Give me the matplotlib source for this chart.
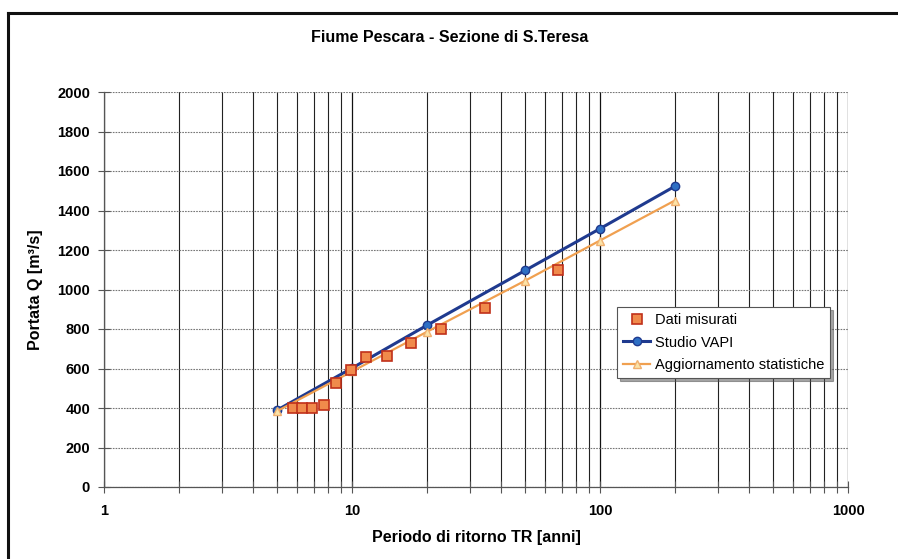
import matplotlib
matplotlib.use("Agg")
import matplotlib.pyplot as plt
from matplotlib.lines import Line2D
from matplotlib.ticker import FixedLocator, LogLocator, NullFormatter

plt.rcParams['font.family'] = ['Liberation Sans', 'DejaVu Sans']

# Measured peak discharges (return period, discharge)
tr_misurati = [5.8, 6.3, 6.9, 7.7, 8.6, 9.9, 11.4, 13.8, 17.3, 22.9, 34.4, 67.7]
q_misurati = [400, 400, 400, 415, 527, 592, 658, 663, 729, 800, 906, 1099]

# VAPI regional study
tr_vapi = [5, 10, 20, 50, 100, 200]
q_vapi = [390, 602, 818, 1097, 1308, 1522]

# Updated statistics
tr_agg = [5, 10, 20, 50, 100, 200]
q_agg = [385, 585, 785, 1045, 1248, 1450]

x_ticks = [1, 10, 100, 1000]
x_tick_labels = ["1", "10", "100", "1000"]
y_ticks = list(range(0, 2001, 200))

fig = plt.figure(figsize=(8.98, 5.59), dpi=100)
ax = fig.add_axes([104 / 898, 1 - 487 / 559, 744 / 898, 395 / 559])

ax.set_xscale('log')
ax.set_xlim(1, 1000)
ax.set_ylim(0, 2000)

ax.xaxis.set_major_locator(FixedLocator(x_ticks))
ax.set_xticklabels(x_tick_labels)
ax.xaxis.set_minor_locator(LogLocator(base=10, subs=range(2, 10)))
ax.xaxis.set_minor_formatter(NullFormatter())
ax.set_yticks(y_ticks)

ax.grid(True, axis='x', which='major', color='#111111', lw=0.9)
ax.grid(True, axis='x', which='minor', color='#222222', lw=0.8)
ax.grid(True, axis='y', which='major', color='#777777', lw=0.8, ls=(0, (1.5, 1)))

for side in ('top', 'right'):
    ax.spines[side].set_visible(False)
for side in ('left', 'bottom'):
    ax.spines[side].set_color('#555555')
    ax.spines[side].set_linewidth(0.9)

ax.tick_params(axis='both', which='both', direction='inout', color='#555555')
ax.tick_params(axis='y', length=8, width=0.8, labelsize=10.5, pad=6)
ax.tick_params(axis='x', which='major', length=8, width=0.8, labelsize=10.5, pad=8)
ax.tick_params(axis='x', which='minor', length=8, width=0.8)
for lbl in ax.get_xticklabels() + ax.get_yticklabels():
    lbl.set_fontweight('bold')

ax.plot(tr_vapi, q_vapi, color='#1f3a8f', lw=2.2, marker='o', ms=6,
        mfc='#2e6fc4', mec='#1f3a8f', label='Studio VAPI', zorder=3)
ax.plot(tr_agg, q_agg, color='#f0a050', lw=1.6, marker='^', ms=6,
        mfc='#fbe3a8', mec='#f0b070', label='Aggiornamento statistiche', zorder=4)
ax.plot(tr_misurati, q_misurati, ls='none', marker='s', ms=7,
        mfc='#f08a4b', mec='#c0301a', mew=1.2, label='Dati misurati', zorder=5)

handles, labels = ax.get_legend_handles_labels()
order = [2, 0, 1]
leg = ax.legend([handles[i] for i in order], [labels[i] for i in order],
                loc='upper right', bbox_to_anchor=((830 - 104) / 744, (487 - 307) / 395),
                fontsize=10.5, frameon=True, fancybox=False, shadow=True,
                edgecolor='#555555', borderpad=0.4, labelspacing=0.6,
                handlelength=1.9, handletextpad=0.3, borderaxespad=0)
leg.get_frame().set_linewidth(0.8)

ax.set_xlabel('Periodo di ritorno TR [anni]', fontsize=11.5, fontweight='bold', labelpad=9)
ax.set_ylabel('Portata Q [m³/s]', fontsize=11.5, fontweight='bold', labelpad=10)

fig.text(450 / 898, 1 - 38 / 559, 'Fiume Pescara - Sezione di S.Teresa',
         ha='center', va='center', fontsize=11.5, fontweight='bold')

# Outer frame
fig.add_artist(Line2D([8 / 898, 8 / 898], [0, 1 - 13 / 559], color='#111111', lw=2.2,
                      transform=fig.transFigure))
fig.add_artist(Line2D([8 / 898, 1], [1 - 13 / 559, 1 - 13 / 559], color='#111111', lw=2.2,
                      transform=fig.transFigure))

fig.savefig('out.png', dpi=100)
